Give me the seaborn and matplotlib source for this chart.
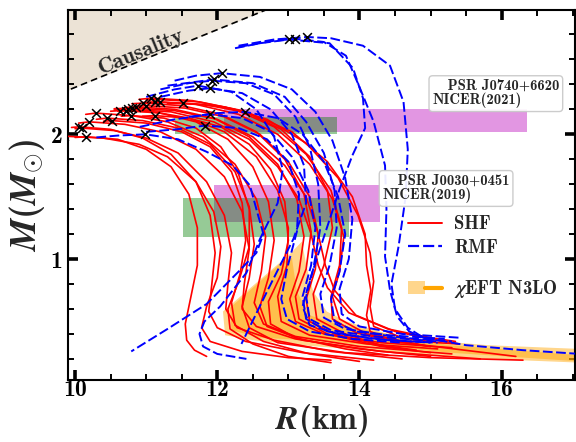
import matplotlib
matplotlib.use("Agg")
import matplotlib.pyplot as plt
import numpy as np
import pandas as pd
import seaborn as sns
from matplotlib.patches import Patch
from matplotlib.lines import Line2D
from matplotlib.legend_handler import HandlerTuple
from matplotlib.ticker import MultipleLocator

# ---------------- data (R in km, M in solar masses) ----------------
shf_01 = [(10.00,1.975),(10.16,1.98),(10.60,1.96),(11.00,1.88),(11.35,1.74),(11.60,1.52),(11.72,1.25),(11.72,0.95),(11.63,0.70),(11.55,0.48),(11.57,0.35),(11.68,0.27),(11.85,0.22)]
shf_02 = [(9.95,2.055),(10.06,2.06),(10.50,2.04),(10.95,1.97),(11.35,1.84),(11.70,1.62),(11.90,1.35),(11.97,1.05),(11.92,0.78),(11.88,0.58),(12.00,0.45),(12.40,0.34),(13.20,0.25),(14.20,0.19)]
shf_03 = [(10.00,2.045),(10.10,2.05),(10.55,2.03),(11.00,1.97),(11.45,1.85),(11.85,1.62),(12.10,1.35),(12.20,1.05),(12.15,0.80),(12.12,0.60),(12.28,0.45),(12.80,0.35),(13.60,0.26),(14.60,0.20)]
shf_04 = [(10.05,2.09),(10.20,2.10),(10.70,2.08),(11.20,2.02),(11.70,1.88),(12.10,1.66),(12.35,1.38),(12.45,1.08),(12.38,0.80),(12.35,0.60),(12.55,0.46),(13.10,0.36),(14.00,0.28),(15.00,0.22)]
shf_05 = [(10.15,2.16),(10.29,2.17),(10.80,2.15),(11.30,2.10),(11.80,1.98),(12.25,1.76),(12.55,1.48),(12.68,1.18),(12.62,0.90),(12.52,0.65),(12.65,0.48),(13.10,0.38),(14.00,0.30),(15.30,0.24)]
shf_06 = [(10.40,2.105),(10.52,2.11),(11.00,2.09),(11.50,2.02),(11.90,1.90),(12.20,1.70),(12.35,1.45),(12.40,1.15),(12.32,0.88),(12.20,0.65),(12.25,0.47),(12.65,0.34),(13.30,0.24),(14.00,0.18)]
shf_07 = [(10.50,2.185),(10.63,2.19),(11.10,2.18),(11.60,2.13),(12.10,2.02),(12.55,1.82),(12.85,1.55),(13.00,1.25),(12.98,0.95),(12.85,0.70),(12.90,0.50),(13.30,0.39),(14.10,0.32),(15.10,0.28)]
shf_08 = [(10.60,2.185),(10.72,2.19),(11.20,2.17),(11.70,2.10),(12.15,1.96),(12.50,1.74),(12.72,1.46),(12.80,1.15),(12.72,0.85),(12.60,0.62),(12.70,0.46),(13.20,0.35),(14.30,0.26),(15.70,0.20)]
shf_09 = [(10.65,2.145),(10.79,2.15),(11.25,2.13),(11.70,2.05),(12.05,1.90),(12.30,1.68),(12.45,1.40),(12.45,1.10),(12.30,0.82),(12.15,0.60),(12.18,0.44),(12.50,0.32),(13.00,0.22),(13.60,0.17)]
shf_10 = [(10.70,2.215),(10.86,2.22),(11.40,2.20),(11.95,2.13),(12.45,1.98),(12.85,1.76),(13.12,1.48),(13.22,1.18),(13.15,0.90),(13.02,0.68),(13.10,0.50),(13.50,0.40),(14.30,0.33),(15.30,0.29)]
shf_11 = [(10.85,2.225),(11.00,2.23),(11.55,2.21),(12.10,2.14),(12.60,2.00),(13.00,1.78),(13.30,1.50),(13.42,1.20),(13.38,0.92),(13.25,0.68),(13.30,0.50),(13.65,0.40),(14.30,0.31),(14.80,0.27)]
shf_12 = [(10.90,2.28),(11.07,2.29),(11.65,2.27),(12.25,2.20),(12.80,2.06),(13.25,1.84),(13.60,1.55),(13.75,1.25),(13.72,0.95),(13.60,0.70),(13.62,0.52),(13.95,0.41),(14.50,0.34),(15.00,0.30)]
shf_13 = [(10.95,2.255),(11.12,2.26),(11.70,2.24),(12.30,2.16),(12.85,2.00),(13.30,1.76),(13.62,1.48),(13.78,1.18),(13.72,0.90),(13.62,0.70),(13.72,0.52),(14.10,0.40),(14.90,0.31),(16.20,0.22)]
shf_14 = [(10.95,2.145),(11.12,2.15),(11.60,2.13),(12.05,2.06),(12.45,1.92),(12.75,1.72),(12.95,1.46),(13.00,1.15),(12.90,0.88),(12.72,0.66),(12.75,0.48),(13.10,0.37),(13.80,0.28),(14.40,0.23)]
shf_15 = [(11.00,2.25),(11.19,2.26),(11.80,2.24),(12.45,2.17),(13.05,2.02),(13.55,1.78),(13.90,1.50),(14.08,1.20),(14.10,0.95),(14.16,0.75),(14.10,0.55),(14.15,0.42),(14.50,0.34),(15.00,0.30)]
shf_16 = [(11.30,2.245),(11.52,2.25),(12.10,2.22),(12.70,2.12),(13.25,1.93),(13.70,1.65),(13.98,1.35),(14.15,1.05),(14.20,0.82),(14.15,0.62),(14.20,0.46),(14.60,0.37),(15.10,0.33),(15.40,0.32)]
shf_17 = [(10.55,2.205),(10.80,2.21),(11.40,2.19),(12.00,2.12),(12.50,1.98),(12.95,1.75),(13.25,1.50),(13.42,1.20),(13.52,0.95),(13.65,0.75),(13.95,0.55),(14.50,0.42),(15.00,0.36),(15.40,0.32)]
shf_18 = [(10.55,2.195),(10.75,2.20),(11.35,2.18),(11.95,2.10),(12.45,1.96),(12.85,1.74),(13.15,1.48),(13.32,1.20),(13.42,0.95),(13.55,0.77),(13.85,0.57),(14.40,0.44),(15.00,0.37),(15.35,0.34)]
shf_19 = [(9.85,1.985),(10.40,1.97),(10.90,1.92),(11.30,1.82),(11.70,1.62),(11.95,1.38),(12.05,1.10),(12.00,0.85),(11.85,0.62),(11.78,0.45),(11.90,0.34),(12.35,0.26),(13.00,0.21),(13.60,0.19)]
shf_20 = [(10.80,2.245),(10.95,2.25),(11.50,2.23),(12.05,2.16),(12.55,2.02),(12.95,1.80),(13.22,1.52),(13.32,1.22),(13.25,0.92),(13.10,0.70),(13.15,0.52),(13.55,0.40),(14.30,0.30),(15.00,0.25)]
shf_21 = [(11.00,2.275),(11.15,2.28),(11.75,2.26),(12.35,2.19),(12.90,2.04),(13.30,1.82),(13.55,1.55),(13.62,1.25),(13.50,0.95),(13.35,0.72),(13.40,0.52),(13.80,0.40),(14.30,0.31),(14.70,0.27)]
shf_22 = [(10.30,2.12),(10.45,2.13),(10.95,2.11),(11.45,2.05),(11.90,1.92),(12.25,1.70),(12.45,1.42),(12.52,1.12),(12.45,0.85),(12.35,0.62),(12.45,0.45),(12.85,0.33),(13.80,0.25),(15.00,0.21),(16.30,0.19)]

rmf_b1 = [(12.30,2.71),(12.80,2.76),(13.26,2.78),(13.60,2.77),(14.05,2.71),(14.43,2.55),(14.62,2.26),(14.68,1.88),(14.65,1.50),(14.55,1.10),(14.45,0.80),(14.50,0.60),(14.68,0.45),(14.90,0.37),(15.50,0.31),(16.30,0.27),(17.10,0.24)]
rmf_b2 = [(12.25,2.69),(12.60,2.73),(13.01,2.76),(13.58,2.73),(13.91,2.53),(14.05,2.29),(14.08,2.05),(13.90,1.83),(13.72,1.56),(13.49,1.16),(13.30,0.83),(13.20,0.62),(13.30,0.47),(13.70,0.40),(14.40,0.35),(15.10,0.33)]
rmf_b3 = [(12.30,2.70),(12.80,2.75),(13.10,2.765),(13.50,2.74),(13.81,2.63),(14.00,2.38),(14.20,2.10),(14.36,1.75),(14.38,1.40),(14.36,1.02),(14.43,0.75),(14.53,0.54),(14.70,0.42),(14.95,0.36)]
rmf_k1 = [(11.00,2.30),(11.40,2.36),(11.73,2.39),(12.20,2.34),(12.55,2.20),(12.80,1.98),(12.92,1.72),(12.85,1.45),(12.60,1.16),(12.41,0.89),(12.04,0.62),(11.82,0.50),(11.75,0.40),(11.80,0.30),(12.00,0.24),(12.41,0.20)]
rmf_k2 = [(11.20,2.30),(11.60,2.35),(11.90,2.37),(12.35,2.33),(12.75,2.20),(13.05,2.00),(13.22,1.75),(13.25,1.45),(13.07,1.16),(12.70,0.74),(12.34,0.32)]
rmf_k3 = [(11.20,2.36),(11.60,2.41),(11.92,2.43),(12.40,2.41),(12.80,2.32),(13.10,2.14),(13.30,1.90),(13.42,1.60),(13.45,1.25),(13.35,0.92),(13.25,0.70),(13.30,0.52),(13.60,0.43),(14.20,0.38),(15.10,0.34)]
rmf_k4 = [(11.30,2.39),(11.95,2.44),(12.50,2.41),(12.95,2.30),(13.25,2.10),(13.50,1.85),(13.65,1.55),(13.68,1.25),(13.58,0.95),(13.45,0.72),(13.50,0.53),(13.80,0.44),(14.40,0.39),(15.20,0.36)]
rmf_k5 = [(11.40,2.43),(11.70,2.47),(12.06,2.49),(12.60,2.46),(13.05,2.36),(13.38,2.18),(13.62,1.95),(13.80,1.65),(13.90,1.32),(13.85,1.00),(13.72,0.76),(13.75,0.56),(14.00,0.46),(14.60,0.40),(15.40,0.37)]
rmf_c1 = [(10.30,1.975),(10.60,1.99),(10.99,2.00),(11.45,1.96),(11.85,1.86),(12.22,1.75),(12.46,1.59),(12.56,1.38),(12.65,1.20),(12.55,1.05),(12.30,0.90),(11.85,0.64),(11.30,0.44),(10.79,0.26)]
rmf_c2 = [(11.00,2.02),(11.43,2.04),(11.83,2.07),(12.30,2.05),(12.70,1.96),(13.00,1.78),(13.15,1.52),(13.12,1.22),(12.98,0.92),(12.90,0.68),(12.98,0.52),(13.30,0.42),(13.90,0.36),(14.60,0.33)]
rmf_c3 = [(10.91,2.06),(11.40,2.12),(11.90,2.16),(12.35,2.13),(12.75,2.02),(13.05,1.82),(13.28,1.55),(13.38,1.25),(13.32,0.95),(13.20,0.70),(13.25,0.52),(13.55,0.42),(14.20,0.36),(15.00,0.33)]
rmf_c4 = [(11.60,2.14),(12.00,2.17),(12.39,2.18),(12.85,2.13),(13.20,2.00),(13.50,1.78),(13.70,1.50),(13.80,1.20),(13.72,0.90),(13.60,0.68),(13.65,0.50),(13.95,0.42),(14.60,0.37),(15.30,0.34)]

shf_curves = [shf_01, shf_02, shf_03, shf_04, shf_05, shf_06, shf_07, shf_08, shf_09, shf_10, shf_11,
              shf_12, shf_13, shf_14, shf_15, shf_16, shf_17, shf_18, shf_19, shf_20, shf_21, shf_22]
rmf_curves = [rmf_b1, rmf_b2, rmf_b3, rmf_k1, rmf_k2, rmf_k3, rmf_k4, rmf_k5, rmf_c1, rmf_c2, rmf_c3, rmf_c4]

# NICER constraints (R range, M range)
j0740_a_R = [11.41, 13.69]; j0740_a_M = [2.006, 2.139]   # green
j0740_b_R = [12.10, 16.35]; j0740_b_M = [2.02, 2.20]     # magenta
j0030_a_R = [11.52, 13.85]; j0030_a_M = [1.18, 1.49]     # green
j0030_b_R = [11.96, 14.29]; j0030_b_M = [1.30, 1.59]     # magenta

# chiEFT N3LO band (outer and inner outlines)
eft_R = [12.11, 12.08, 13.02, 13.19, 13.26, 13.35, 13.54, 13.82, 14.57, 15.80, 17.10, 17.10, 15.80, 14.57, 13.16, 12.50]
eft_M = [0.39, 0.58, 1.04, 1.14, 0.93, 0.74, 0.58, 0.50, 0.37, 0.31, 0.28, 0.17, 0.20, 0.25, 0.31, 0.35]
eft_in_R = [12.20, 12.18, 12.92, 13.05, 13.12, 13.30, 13.73, 15.27, 17.10, 17.10, 15.27, 13.58, 12.60]
eft_in_M = [0.43, 0.61, 0.98, 1.01, 0.74, 0.55, 0.47, 0.31, 0.23, 0.18, 0.25, 0.34, 0.37]

# causality limit line (two points)
caus_R = [9.80, 13.00]
caus_M = [2.33, 3.07]

# ---------------- build long table ----------------
rows = []
for i, c in enumerate(shf_curves):
    for j, (r, m) in enumerate(c):
        rows.append(("SHF", f"s{i}", j, r, m))
for i, c in enumerate(rmf_curves):
    for j, (r, m) in enumerate(c):
        rows.append(("RMF", f"r{i}", j, r, m))
df = pd.DataFrame(rows, columns=["model", "curve", "k", "R", "M"])

# ---------------- style ----------------
sns.set_style("ticks")
plt.rcParams.update({
    "font.family": ["cmb10", "DejaVu Serif"],
    "mathtext.fontset": "custom",
    "mathtext.rm": "cmb10",
    "mathtext.bf": "cmb10",
    "mathtext.it": "STIXGeneral:italic:bold",
    "mathtext.fallback": "cm",
    "axes.unicode_minus": False,
    "axes.formatter.use_mathtext": True,
})

fig = plt.figure(figsize=(5.76, 4.42), dpi=100)
ax = fig.add_axes([0.118, 0.140, 0.880, 0.837])

xlim = (9.9, 17.03)
ylim = (0.03, 2.995)

# causality region
cR = np.array(caus_R); cM = np.array(caus_M)
ax.fill_between(cR, cM, 3.5, color="#ece3d6", zorder=0.5, lw=0)
ax.plot(cR, cM, color="k", ls=(0, (4, 2.5)), lw=1.2, zorder=0.6)
ax.text(10.93, 2.66, "Causality", rotation=22.4, rotation_mode="anchor",
        ha="center", va="center", fontsize=16, zorder=7)

# NICER rectangles
for Rr, Mr in [(j0740_b_R, j0740_b_M), (j0030_b_R, j0030_b_M)]:
    ax.fill_between(Rr, [Mr[0]] * 2, [Mr[1]] * 2, color="#e296e2", lw=0, zorder=1)
for Rr, Mr in [(j0740_a_R, j0740_a_M), (j0030_a_R, j0030_a_M)]:
    ax.fill_between(Rr, [Mr[0]] * 2, [Mr[1]] * 2, color="g", alpha=0.41, lw=0, zorder=1.1)

# chiEFT band
ax.fill(eft_R, eft_M, color="orange", alpha=0.45, lw=0, zorder=1.5)
ax.fill(eft_in_R, eft_in_M, color="orange", alpha=0.45, lw=0, zorder=1.6)

# M-R curves
sns.lineplot(data=df[df.model == "SHF"], x="R", y="M", units="curve", estimator=None,
             sort=False, color="red", linewidth=1.2, legend=False, ax=ax, zorder=3)
sns.lineplot(data=df[df.model == "RMF"], x="R", y="M", units="curve", estimator=None,
             sort=False, style="model", dashes={"RMF": (5, 1.8)}, color="blue",
             linewidth=1.4, legend=False, ax=ax, zorder=3.2)

# maximum-mass markers
mx = df.loc[df.groupby("curve")["M"].idxmax()]
sns.scatterplot(data=mx, x="R", y="M", marker="x", color="k", s=40, linewidth=1.1,
                ax=ax, zorder=5, legend=False)

# annotations
box = dict(boxstyle="round,pad=0.25", fc="white", ec="#c8c8c8", lw=1.0, alpha=0.92)
ax.text(15.03, 2.33, "   PSR J0740+6620\nNICER(2021)", fontsize=10.5, ha="left", va="center",
        bbox=box, zorder=6, linespacing=1.0)
ax.text(14.33, 1.57, "   PSR J0030+0451\nNICER(2019)", fontsize=10.5, ha="left", va="center",
        bbox=box, zorder=6, linespacing=1.0)

# legends
h1 = [Line2D([], [], color="red", lw=1.4), Line2D([], [], color="blue", lw=1.6, ls=(0, (5, 1.8)))]
leg1 = ax.legend(h1, ["SHF", "RMF"], loc="center left", bbox_to_anchor=(0.671, 0.389),
                 frameon=False, fontsize=13.5, borderpad=0, borderaxespad=0,
                 handlelength=1.8, handletextpad=0.65, labelspacing=0.3)
ax.add_artist(leg1)
h2 = (Patch(facecolor="orange", alpha=0.45, lw=0), Line2D([], [], color="orange", lw=3))
ax.legend([h2], [r"$\chi$EFT N3LO"], handler_map={tuple: HandlerTuple(ndivide=None)},
          loc="center left", bbox_to_anchor=(0.671, 0.246), frameon=False, fontsize=13.5,
          borderpad=0, borderaxespad=0, handlelength=1.8, handletextpad=0.65)

# axes
ax.set_xlim(*xlim)
ax.set_ylim(*ylim)
ax.xaxis.set_major_locator(MultipleLocator(2))
ax.xaxis.set_minor_locator(MultipleLocator(0.5))
ax.yaxis.set_major_locator(MultipleLocator(1))
ax.yaxis.set_minor_locator(MultipleLocator(0.2))
ax.tick_params(which="both", direction="in", top=True, right=True, colors="k")
ax.tick_params(which="major", length=7, width=2.6, labelsize=17, pad=4)
ax.tick_params(axis="x", which="major", pad=-1)
ax.tick_params(which="minor", length=4.5, width=1.4)
for s in ax.spines.values():
    s.set_linewidth(1.5)
    s.set_color("k")
ax.set_xlabel(r"$R$(km)", fontsize=24, labelpad=1)
ax.set_ylabel(r"$M(M_{\odot})$", fontsize=26, labelpad=2)

fig.savefig("out.png", dpi=100)
